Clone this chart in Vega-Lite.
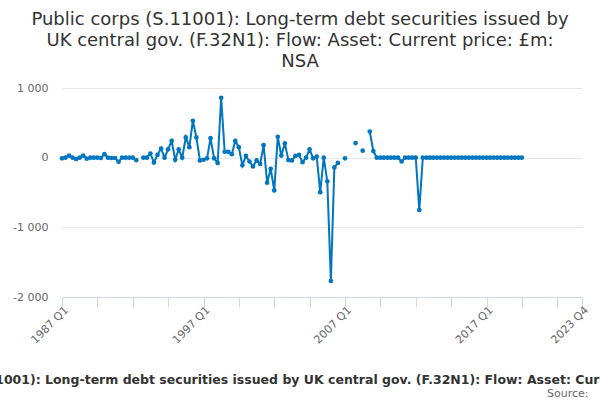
{
  "$schema": "https://vega.github.io/schema/vega-lite/v6.json",
  "width": 520,
  "height": 209,
  "autosize": {"type": "none"},
  "padding": {"left": 62, "top": 88, "right": 18, "bottom": 103},
  "background": "white",
  "config": {"view": {"stroke": null}, "font": "DejaVu Sans"},
  "title": {
    "text": ["Public corps (S.11001): Long-term debt securities issued by", "UK central gov. (F.32N1): Flow: Asset: Current price: £m:", "NSA"],
    "fontSize": 18,
    "font": "DejaVu Sans",
    "fontWeight": "normal",
    "color": "#333333",
    "anchor": "middle",
    "dx": -22,
    "offset": 11,
    "lineHeight": 21
  },
  "data": {"values": [
    {"date": "1987-01-01", "value": -10}, {"date": "1987-04-01", "value": 0}, {"date": "1987-07-01", "value": 30}, {"date": "1987-10-01", "value": 0},
    {"date": "1988-01-01", "value": -20}, {"date": "1988-04-01", "value": 0}, {"date": "1988-07-01", "value": 30}, {"date": "1988-10-01", "value": -15},
    {"date": "1989-01-01", "value": 0}, {"date": "1989-04-01", "value": 0}, {"date": "1989-07-01", "value": 0}, {"date": "1989-10-01", "value": -5},
    {"date": "1990-01-01", "value": 50}, {"date": "1990-04-01", "value": 0}, {"date": "1990-07-01", "value": -5}, {"date": "1990-10-01", "value": -5},
    {"date": "1991-01-01", "value": -60}, {"date": "1991-04-01", "value": 0}, {"date": "1991-07-01", "value": 0}, {"date": "1991-10-01", "value": 0},
    {"date": "1992-01-01", "value": 0}, {"date": "1992-04-01", "value": -35}, {"date": "1992-07-01", "value": null}, {"date": "1992-10-01", "value": 0},
    {"date": "1993-01-01", "value": 0}, {"date": "1993-04-01", "value": 60}, {"date": "1993-07-01", "value": -70}, {"date": "1993-10-01", "value": 40},
    {"date": "1994-01-01", "value": 130}, {"date": "1994-04-01", "value": 0}, {"date": "1994-07-01", "value": 120}, {"date": "1994-10-01", "value": 240},
    {"date": "1995-01-01", "value": -30}, {"date": "1995-04-01", "value": 120}, {"date": "1995-07-01", "value": 0}, {"date": "1995-10-01", "value": 290},
    {"date": "1996-01-01", "value": 150}, {"date": "1996-04-01", "value": 530}, {"date": "1996-07-01", "value": 290}, {"date": "1996-10-01", "value": -40},
    {"date": "1997-01-01", "value": -30}, {"date": "1997-04-01", "value": -10}, {"date": "1997-07-01", "value": 280}, {"date": "1997-10-01", "value": -10},
    {"date": "1998-01-01", "value": -75}, {"date": "1998-04-01", "value": 860}, {"date": "1998-07-01", "value": 85}, {"date": "1998-10-01", "value": 85},
    {"date": "1999-01-01", "value": 50}, {"date": "1999-04-01", "value": 240}, {"date": "1999-07-01", "value": 150}, {"date": "1999-10-01", "value": -110},
    {"date": "2000-01-01", "value": 25}, {"date": "2000-04-01", "value": -55}, {"date": "2000-07-01", "value": -125}, {"date": "2000-10-01", "value": -40},
    {"date": "2001-01-01", "value": -90}, {"date": "2001-04-01", "value": 180}, {"date": "2001-07-01", "value": -360}, {"date": "2001-10-01", "value": -160},
    {"date": "2002-01-01", "value": -470}, {"date": "2002-04-01", "value": 300}, {"date": "2002-07-01", "value": 30}, {"date": "2002-10-01", "value": 205},
    {"date": "2003-01-01", "value": -35}, {"date": "2003-04-01", "value": -40}, {"date": "2003-07-01", "value": 25}, {"date": "2003-10-01", "value": 40},
    {"date": "2004-01-01", "value": -65}, {"date": "2004-04-01", "value": 0}, {"date": "2004-07-01", "value": 120}, {"date": "2004-10-01", "value": -10},
    {"date": "2005-01-01", "value": 15}, {"date": "2005-04-01", "value": -495}, {"date": "2005-07-01", "value": 0}, {"date": "2005-10-01", "value": -340},
    {"date": "2006-01-01", "value": -1770}, {"date": "2006-04-01", "value": -140}, {"date": "2006-07-01", "value": -75}, {"date": "2006-10-01", "value": null},
    {"date": "2007-01-01", "value": -10}, {"date": "2007-04-01", "value": null}, {"date": "2007-07-01", "value": null}, {"date": "2007-10-01", "value": 210},
    {"date": "2008-01-01", "value": null}, {"date": "2008-04-01", "value": 100}, {"date": "2008-07-01", "value": null}, {"date": "2008-10-01", "value": 375},
    {"date": "2009-01-01", "value": 95}, {"date": "2009-04-01", "value": 0}, {"date": "2009-07-01", "value": 0}, {"date": "2009-10-01", "value": 0},
    {"date": "2010-01-01", "value": 0}, {"date": "2010-04-01", "value": 0}, {"date": "2010-07-01", "value": 0}, {"date": "2010-10-01", "value": 0},
    {"date": "2011-01-01", "value": -55}, {"date": "2011-04-01", "value": 0}, {"date": "2011-07-01", "value": 0}, {"date": "2011-10-01", "value": 0},
    {"date": "2012-01-01", "value": 0}, {"date": "2012-04-01", "value": -750}, {"date": "2012-07-01", "value": 0}, {"date": "2012-10-01", "value": 0},
    {"date": "2013-01-01", "value": 0}, {"date": "2013-04-01", "value": 0}, {"date": "2013-07-01", "value": 0}, {"date": "2013-10-01", "value": 0},
    {"date": "2014-01-01", "value": 0}, {"date": "2014-04-01", "value": 0}, {"date": "2014-07-01", "value": 0}, {"date": "2014-10-01", "value": 0},
    {"date": "2015-01-01", "value": 0}, {"date": "2015-04-01", "value": 0}, {"date": "2015-07-01", "value": 0}, {"date": "2015-10-01", "value": 0},
    {"date": "2016-01-01", "value": 0}, {"date": "2016-04-01", "value": 0}, {"date": "2016-07-01", "value": 0}, {"date": "2016-10-01", "value": 0},
    {"date": "2017-01-01", "value": 0}, {"date": "2017-04-01", "value": 0}, {"date": "2017-07-01", "value": 0}, {"date": "2017-10-01", "value": 0},
    {"date": "2018-01-01", "value": 0}, {"date": "2018-04-01", "value": 0}, {"date": "2018-07-01", "value": 0}, {"date": "2018-10-01", "value": 0},
    {"date": "2019-01-01", "value": 0}, {"date": "2019-04-01", "value": 0}, {"date": "2019-07-01", "value": 0}
  ]},
  "layer": [
    {
      "mark": {"type": "line", "color": "#0076c0", "strokeWidth": 2, "invalid": "break-paths-filter-domains"},
      "encoding": {
        "x": {
          "field": "date", "type": "temporal",
          "scale": {"type": "utc", "domain": [{"year": 1987, "month": 1, "date": 1, "utc": true}, {"year": 2023, "month": 10, "date": 1, "utc": true}]},
          "axis": {
            "orient": "bottom",
            "values": [
              {"year": 1987, "month": 1, "date": 1, "utc": true}, {"year": 1989, "month": 7, "date": 1, "utc": true},
              {"year": 1992, "month": 1, "date": 1, "utc": true}, {"year": 1994, "month": 7, "date": 1, "utc": true},
              {"year": 1997, "month": 1, "date": 1, "utc": true}, {"year": 1999, "month": 7, "date": 1, "utc": true},
              {"year": 2002, "month": 1, "date": 1, "utc": true}, {"year": 2004, "month": 7, "date": 1, "utc": true},
              {"year": 2007, "month": 1, "date": 1, "utc": true}, {"year": 2009, "month": 7, "date": 1, "utc": true},
              {"year": 2012, "month": 1, "date": 1, "utc": true}, {"year": 2014, "month": 7, "date": 1, "utc": true},
              {"year": 2017, "month": 1, "date": 1, "utc": true}, {"year": 2019, "month": 7, "date": 1, "utc": true},
              {"year": 2022, "month": 1, "date": 1, "utc": true}, {"year": 2023, "month": 10, "date": 1, "utc": true}
            ],
            "labelExpr": "((utcmonth(datum.value) == 0 && utcyear(datum.value) % 10 == 7) || utcyear(datum.value) == 2023) ? utcFormat(datum.value, '%Y Q%q') : ''",
            "labelAngle": -45,
            "labelAlign": "right",
            "labelBaseline": "top",
            "labelColor": "#666666",
            "labelFontSize": 11,
            "labelOverlap": false,
            "labelPadding": -3,
            "tickColor": "#ccd6eb",
            "tickSize": 10,
            "domainColor": "#ccd6eb",
            "grid": false,
            "title": "Public corps (S.11001): Long-term debt securities issued by UK central gov. (F.32N1): Flow: Asset: Current price: £m: NSA",
            "titleFontSize": 12.5,
            "titleFontWeight": "bold",
            "titleColor": "#333333",
            "titlePadding": 28,
            "titleX": 245
          }
        },
        "y": {
          "field": "value", "type": "quantitative",
          "scale": {"domain": [-2000, 1000], "nice": false, "zero": false},
          "axis": {
            "values": [-2000, -1000, 0, 1000],
            "title": null, "domain": false, "ticks": false,
            "grid": true, "gridColor": "#e6e6e6",
            "labelColor": "#666666", "labelFontSize": 11, "labelPadding": 14,
            "labelExpr": "(datum.value < 0 ? '-' : '') + replace(format(abs(datum.value), ','), ',', ' ')"
          }
        }
      }
    },
    {
      "mark": {"type": "point", "filled": true, "color": "#0076c0", "size": 22, "opacity": 1},
      "encoding": {
        "x": {
          "field": "date", "type": "temporal",
          "axis": {
            "orient": "bottom",
            "title": "Source:", "labels": false, "ticks": false, "domain": false, "grid": false,
            "titleAnchor": "end", "titleAlign": "right", "titleX": 526,
            "titleFontSize": 11, "titleFontWeight": "normal", "titleColor": "#666666",
            "titlePadding": 90
          }
        },
        "y": {
          "field": "value", "type": "quantitative",
          "scale": {"domain": [-2000, 1000], "nice": false, "zero": false}
        }
      }
    }
  ],
  "resolve": {"axis": {"x": "independent"}}
}
